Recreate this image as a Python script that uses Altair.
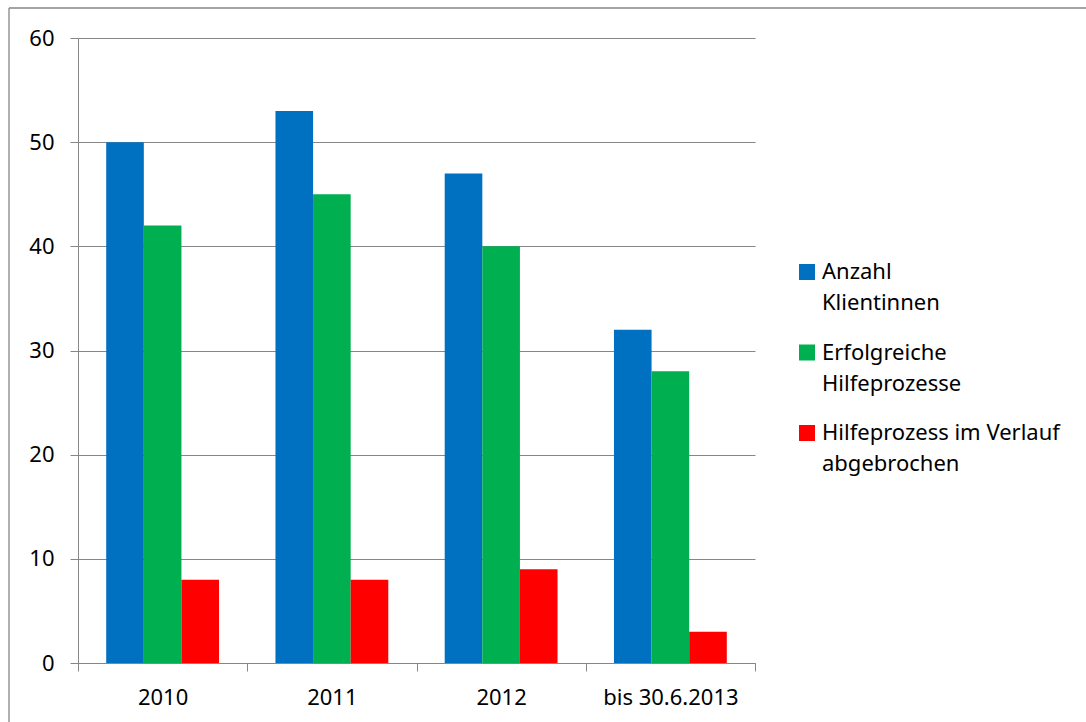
import altair as alt
import pandas as pd

categories = ["2010", "2011", "2012", "bis 30.6.2013"]
series = ["Anzahl|Klientinnen", "Erfolgreiche|Hilfeprozesse", "Hilfeprozess im Verlauf|abgebrochen"]
anzahl = [50, 53, 47, 32]
erfolgreich = [42, 45, 40, 28]
abgebrochen = [8, 8, 9, 3]
colors = ["#0070C0", "#00B050", "#FF0000"]
y_ticks = [0, 10, 20, 30, 40, 50, 60]

rows = []
for vals, s in zip([anzahl, erfolgreich, abgebrochen], series):
    for c, v in zip(categories, vals):
        rows.append({"Kategorie": c, "Serie": s, "Wert": v})
df = pd.DataFrame(rows)

FONT = "Noto Sans"
GRAY = "#868686"

bars = alt.Chart(df).mark_bar().encode(
    x=alt.X("Kategorie:N", sort=categories,
            scale=alt.Scale(paddingInner=0, paddingOuter=0),
            axis=alt.Axis(title=None, labelAngle=0, tickBand="extent", tickSize=8,
                          labelFontSize=22, labelPadding=16, labelColor="black",
                          labelFont=FONT, domainColor=GRAY, tickColor=GRAY, grid=False)),
    xOffset=alt.XOffset("Serie:N", sort=series,
                        scale=alt.Scale(paddingInner=0, paddingOuter=0.75)),
    y=alt.Y("Wert:Q", scale=alt.Scale(domain=[0, 60], nice=False),
            axis=alt.Axis(title=None, values=y_ticks, tickSize=8, labelPadding=16,
                          labelFontSize=22, labelColor="black", labelFont=FONT,
                          domainColor=GRAY, tickColor=GRAY, grid=True, gridColor=GRAY)),
    color=alt.Color("Serie:N", sort=series,
                    scale=alt.Scale(domain=series, range=colors),
                    legend=alt.Legend(title=None, orient="none", legendX=718, legendY=223,
                                      padding=0, labelExpr="split(datum.label, '|')",
                                      labelFontSize=22, labelFont=FONT, labelColor="black",
                                      labelLimit=400, rowPadding=27.5, labelOffset=4,
                                      symbolType="square", symbolSize=256,
                                      symbolStrokeWidth=0, symbolOpacity=1)),
)

frame_left = alt.Chart(alt.Data(values=[{}])).mark_rule(color=GRAY, strokeWidth=1.3).encode(
    x=alt.value(-69), y=alt.value(-30), y2=alt.value(800))
frame_top = alt.Chart(alt.Data(values=[{}])).mark_rule(color=GRAY, strokeWidth=1.3).encode(
    x=alt.value(-69), x2=alt.value(1200), y=alt.value(-30))

chart = alt.layer(bars, frame_left, frame_top).properties(
    width=677, height=625,
    autosize=alt.AutoSizeParams(type="none"),
    padding={"left": 78, "top": 38, "right": 331, "bottom": 59},
    background="white",
).configure(
    view={"strokeWidth": 0},
    style={"guide-label": {"lineHeight": 31}},
)

chart.save("out.html", embed_options={"renderer": "svg", "actions": False})
